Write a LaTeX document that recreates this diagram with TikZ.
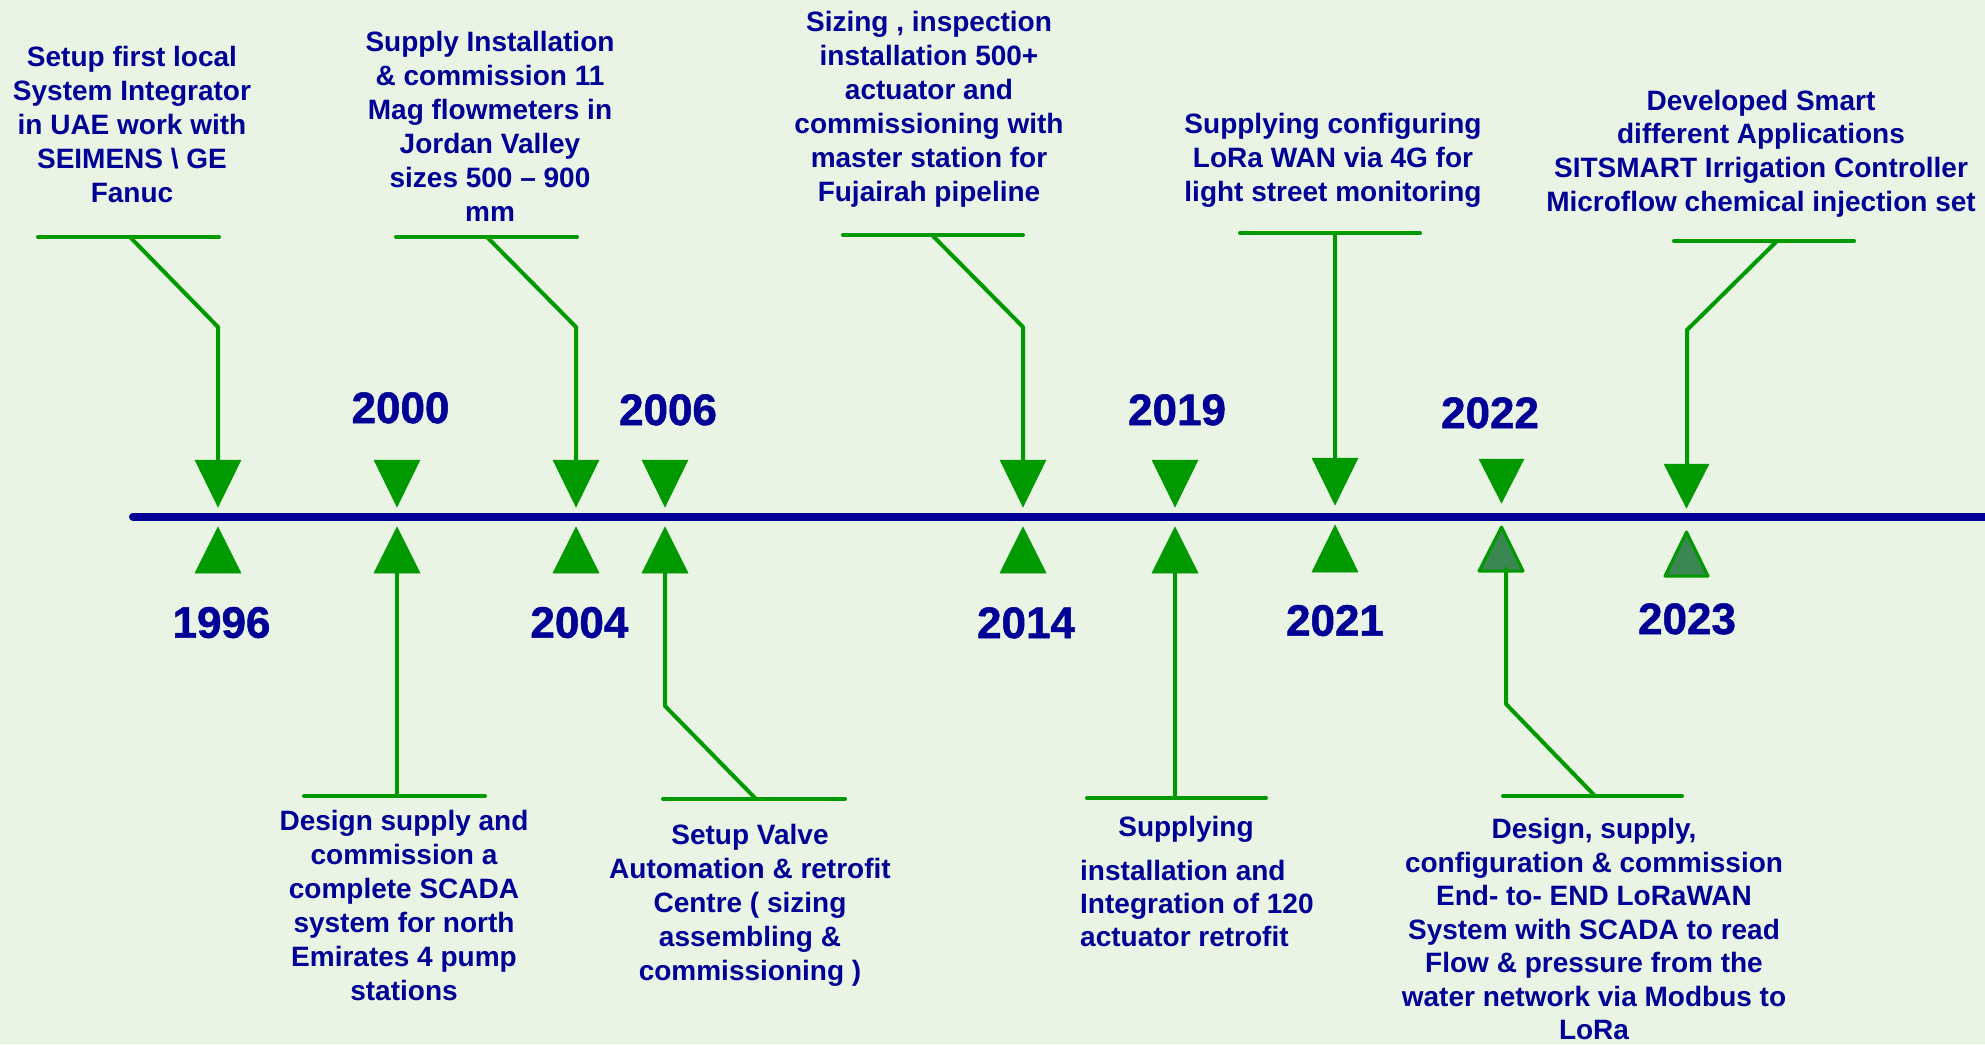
\documentclass[tikz,border=0pt]{standalone}
\usepackage{fontspec}
\setmainfont{Liberation Sans}
\newfontfamily\yearfont[FakeBold=1.2]{Liberation Sans Bold}
\definecolor{bgc}{RGB}{233,244,228}
\definecolor{tblue}{RGB}{0,0,150}
\definecolor{lgreen}{RGB}{0,153,0}
\definecolor{dgreen}{RGB}{58,135,82}
\newcommand{\fl}{\rule{0pt}{25pt}}
\tikzset{
  desc/.style={font=\fontsize{28}{34}\selectfont\bfseries, text=tblue, align=center, anchor=north, inner sep=0pt},
  yearlbl/.style={font=\fontsize{44}{50}\yearfont, text=tblue, anchor=base, inner sep=0pt},
  conn/.style={draw=lgreen, line width=4pt, line cap=round, line join=round},
  tri/.style={fill=lgreen, draw=lgreen, line width=0.5pt, line join=miter},
  tridark/.style={fill=dgreen, draw=lgreen, line width=3pt, line join=round},
  axis/.style={draw=tblue, line width=8pt, line cap=round}
}
\begin{document}
\begin{tikzpicture}[x=1pt,y=-1pt]
\useasboundingbox (0,0) rectangle (1985,1044);
\fill[bgc] (0,0) rectangle (1985,1044);

% timeline
\coordinate (tlA) at (133,516.7);
\coordinate (tlB) at (1995,516.7);
\draw[axis] (tlA) -- (tlB);

% triangles (down = above line, up = below line)
\foreach \n/\x/\dt/\dtip/\ut/\ub in {
  a/218/460/507/527/573, b/397/460/507/527/573, c/576/460/507/527/573,
  d/665/460/507/527/573, e/1023/460/507/527/573, f/1175/460/507/527/573,
  g/1335/458/505/525/572}{
  \fill[tri] (\x-23,\dt) -- (\x+23,\dt) -- (\x,\dtip) -- cycle;
  \fill[tri] (\x,\ut) -- (\x+23,\ub) -- (\x-23,\ub) -- cycle;
  \coordinate (dn\n) at (\x,\dt);
  \coordinate (up\n) at (\x,\ub);
}
\fill[tri] (1479,459) -- (1524,459) -- (1501.5,503) -- cycle;
\coordinate (dnh) at (1501.5,459);
\filldraw[tridark] (1501.5,527) -- (1523,571) -- (1479,571) -- cycle;
\coordinate (uph) at (1506,569);
\fill[tri] (1664,464) -- (1709,464) -- (1686.5,508) -- cycle;
\coordinate (dni) at (1687,464);
\filldraw[tridark] (1686.5,532) -- (1708,576) -- (1665,576) -- cycle;

% year labels
\node[yearlbl] (y1996) at (221.5,637.7) {1996};
\node[yearlbl] (y2000) at (400.5,423) {2000};
\node[yearlbl] (y2004) at (579.4,637.7) {2004};
\node[yearlbl] (y2006) at (668,425) {2006};
\node[yearlbl] (y2014) at (1026,638) {2014};
\node[yearlbl] (y2019) at (1177,425) {2019};
\node[yearlbl] (y2021) at (1335,635.7) {2021};
\node[yearlbl] (y2022) at (1490,428) {2022};
\node[yearlbl] (y2023) at (1687,634) {2023};

% top descriptions (positions = first baseline - 25)
\node[desc] (tA) at (132,41.7) {\fl Setup first local\\System Integrator\\in UAE work with\\SEIMENS \textbackslash\ GE\\Fanuc};
\node[desc] (tB) at (490,26.7) {\fl Supply Installation\\\& commission 11\\Mag flowmeters in\\Jordan Valley\\sizes 500 – 900\\mm};
\node[desc] (tC) at (929,6.7) {\fl Sizing , inspection\\installation 500+\\actuator and\\commissioning with\\master station for\\Fujairah pipeline};
\node[desc] (tD) at (1333,108) {\fl Supplying configuring\\LoRa WAN via 4G for\\light street monitoring};
\node[desc, font=\fontsize{28}{33.7}\selectfont\bfseries] (tE) at (1761,85) {\fl Developed Smart\\different Applications\\SITSMART Irrigation Controller\\Microflow chemical injection set};

% bottom descriptions
\node[desc] (bF) at (404,805) {\fl Design supply and\\commission a\\complete SCADA\\system for north\\Emirates 4 pump\\stations};
\node[desc] (bG) at (750,819) {\fl Setup Valve\\Automation \& retrofit\\Centre ( sizing\\assembling \&\\commissioning )};
\node[desc] (bH1) at (1186,811.7) {\fl Supplying};
\node[desc, align=left, anchor=north west, font=\fontsize{28}{33.3}\selectfont\bfseries] (bH2) at (1080,855) {\fl installation and\\Integration of 120\\actuator retrofit};
\node[desc, font=\fontsize{28}{33.5}\selectfont\bfseries] (bI) at (1594,813.3) {\fl Design, supply,\\configuration \& commission\\End- to- END LoRaWAN\\System with SCADA to read\\Flow \& pressure from the\\water network via Modbus to\\LoRa};

% top connectors
\coordinate (barAl) at (38,237);  \coordinate (barAr) at (219,237);
\coordinate (barAj) at (130,237); \coordinate (bendA) at (218,327);
\draw[conn] (barAl) -- (barAr);
\draw[conn] (barAj) -- (bendA) -- (dna);

\coordinate (barBl) at (396,237); \coordinate (barBr) at (577,237);
\coordinate (barBj) at (487,237); \coordinate (bendB) at (576,327);
\draw[conn] (barBl) -- (barBr);
\draw[conn] (barBj) -- (bendB) -- (dnc);

\coordinate (barCl) at (843,235); \coordinate (barCr) at (1023,235);
\coordinate (barCj) at (932,235); \coordinate (bendC) at (1023,327);
\draw[conn] (barCl) -- (barCr);
\draw[conn] (barCj) -- (bendC) -- (dne);

\coordinate (barDl) at (1240,233); \coordinate (barDr) at (1420,233);
\coordinate (barDj) at (1335,233);
\draw[conn] (barDl) -- (barDr);
\draw[conn] (barDj) -- (dng);

\coordinate (barEl) at (1674,241); \coordinate (barEr) at (1854,241);
\coordinate (barEj) at (1777,241); \coordinate (bendE) at (1687,330);
\draw[conn] (barEl) -- (barEr);
\draw[conn] (barEj) -- (bendE) -- (dni);

% bottom connectors
\coordinate (barFl) at (304,796); \coordinate (barFr) at (485,796);
\coordinate (barFj) at (397,796);
\draw[conn] (barFl) -- (barFr);
\draw[conn] (upb) -- (barFj);

\coordinate (barGl) at (663,799); \coordinate (barGr) at (845,799);
\coordinate (barGj) at (756,799); \coordinate (bendG) at (665,706);
\draw[conn] (barGl) -- (barGr);
\draw[conn] (upd) -- (bendG) -- (barGj);

\coordinate (barHl) at (1087,798); \coordinate (barHr) at (1266,798);
\coordinate (barHj) at (1175,798);
\draw[conn] (barHl) -- (barHr);
\draw[conn] (upf) -- (barHj);

\coordinate (barIl) at (1503,796); \coordinate (barIr) at (1682,796);
\coordinate (barIj) at (1595,796); \coordinate (bendI) at (1506,704);
\draw[conn] (barIl) -- (barIr);
\draw[conn] (uph) -- (bendI) -- (barIj);
\end{tikzpicture}
\end{document}
